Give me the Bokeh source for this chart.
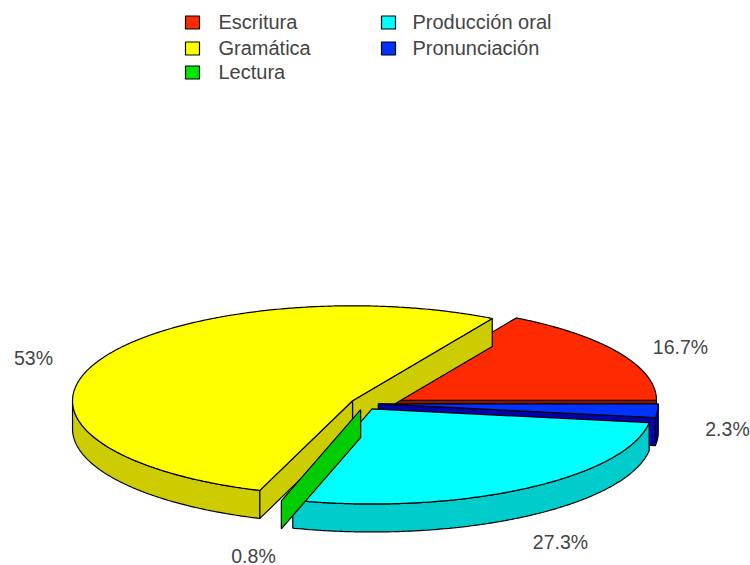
import numpy as np
from bokeh.core.properties import value
from bokeh.embed import file_html
from bokeh.models import Range1d
from bokeh.plotting import figure
from bokeh.resources import INLINE

# Survey shares, in the order the slices run counter-clockwise from 3 o'clock
categories = ["Escritura", "Gramática", "Lectura", "Producción oral", "Pronunciación"]
shares = [16.7, 53, 0.8, 27.3, 2.3]
top_colors = ["#ff2a00", "#ffff00", "#00e600", "#00ffff", "#0033ff"]
wall_colors = ["#8a1500", "#cccc00", "#00cc00", "#00cccc", "#0000b0"]

CX, CY = 364.3, 403.0      # pie centre
RX, RY = 280.0, 95.0       # ellipse radii of the top face
DEPTH = 28.0               # height of the walls
EXPLODE_X, EXPLODE_Y = 13.5, 6.5

p = figure(width=750, height=565, output_backend="svg", toolbar_location=None,
           x_range=Range1d(0, 750), y_range=Range1d(565, 0), min_border=0)
p.axis.visible = False
p.grid.visible = False
p.outline_line_color = None
p.background_fill_color = "white"


def rim(cx, cy, a0, a1, drop=0.0):
    t = np.radians(np.linspace(a0, a1, max(2, int(abs(a1 - a0) * 2) + 2)))
    return cx + RX * np.cos(t), cy - RY * np.sin(t) + drop


def poly(xs, ys, color):
    p.patch(list(xs), list(ys), fill_color=color, line_color="black", line_width=1.2)


def radial_wall(cx, cy, angle, color):
    t = np.radians(angle)
    ex, ey = cx + RX * np.cos(t), cy - RY * np.sin(t)
    poly([cx, ex, ex, cx], [cy, ey, ey + DEPTH, cy + DEPTH], color)


def arc_wall(cx, cy, a0, a1, color):
    x1, y1 = rim(cx, cy, a0, a1)
    x2, y2 = rim(cx, cy, a1, a0, DEPTH)
    poly(np.r_[x1, x2], np.r_[y1, y2], color)


def top_face(cx, cy, a0, a1, color):
    x, y = rim(cx, cy, a0, a1)
    poly(np.r_[cx, x], np.r_[cy, y], color)


total = sum(shares)
edges = np.r_[0, np.cumsum(shares)] / total * 360
slices = []
for i in range(len(shares)):
    a0, a1 = edges[i], edges[i + 1]
    mid = np.radians((a0 + a1) / 2)
    slices.append((CX + EXPLODE_X * np.cos(mid), CY - EXPLODE_Y * np.sin(mid), a0, a1))

# Back to front: writing, grammar, pronunciation, speaking, reading
ESC, GRA, LEC, ORA, PRO = range(5)

cx, cy, a0, a1 = slices[ESC]
radial_wall(cx, cy, a0, wall_colors[ESC])
top_face(cx, cy, a0, a1, top_colors[ESC])

cx, cy, a0, a1 = slices[GRA]
arc_wall(cx, cy, 180, a1, wall_colors[GRA])
radial_wall(cx, cy, a0, wall_colors[GRA])
radial_wall(cx, cy, a1, wall_colors[GRA])
top_face(cx, cy, a0, a1, top_colors[GRA])

cx, cy, a0, a1 = slices[PRO]
arc_wall(cx, cy, a0, a1, wall_colors[PRO])
radial_wall(cx, cy, a0, wall_colors[PRO])
top_face(cx, cy, a0, a1, top_colors[PRO])

cx, cy, a0, a1 = slices[ORA]
arc_wall(cx, cy, a0, a1, wall_colors[ORA])
top_face(cx, cy, a0, a1, top_colors[ORA])

# The reading slice is so thin that only its cut wall shows
cx, cy, a0, a1 = slices[LEC]
radial_wall(cx, cy, a1, wall_colors[LEC])

# Percentage labels around the pie
label_x = [680, 253, 727, 560, 33]
label_y = [346, 555, 428, 541, 357]
label_order = [ESC, LEC, PRO, ORA, GRA]
p.text(label_x, label_y, text=[f"{shares[i]}%" for i in label_order],
       text_font=value("Liberation Sans"), text_font_size="19.5px", text_color="#444444",
       text_align="center", text_baseline="middle")

# Legend in two columns
swatch_x = [192, 192, 192, 388, 388]
swatch_y = [22, 48, 72, 22, 48]
text_x = [218, 218, 218, 412, 412]
text_y = [21, 47, 71, 21, 47]
p.rect(swatch_x, swatch_y, width=14, height=13, fill_color=top_colors,
       line_color="black", line_width=1.2)
p.text(text_x, text_y, text=categories, text_font=value("Liberation Sans"),
       text_font_size="20px", text_color="#444444", text_baseline="middle")

open("out.html", "w").write(file_html(p, INLINE))
